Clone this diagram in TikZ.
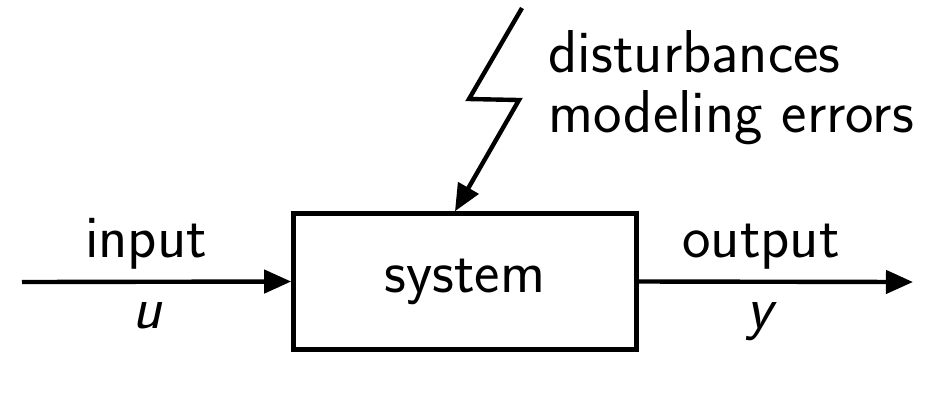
\documentclass[tikz,border=0pt]{standalone}
\usetikzlibrary{arrows.meta}
\begin{document}
\begin{tikzpicture}[x=0.01cm,y=-0.01cm,
  lbl/.style={font=\sffamily\fontsize{17.2}{20}\selectfont, inner sep=0pt},
  arr/.style={line width=1.25pt, -{Triangle[length=0.27cm,width=0.23cm]}},
  boxst/.style={draw, line width=1.25pt, minimum width=3.43cm, minimum height=1.36cm, inner sep=0pt}]
\useasboundingbox (0,0) rectangle (935,417);
\node[boxst] (sys) at (465,281.5) {};
\node[lbl, anchor=base] (systxt) at (465,292) {system};
\coordinate (in) at (22,282);
\coordinate (out) at (913,282);
\draw[arr] (in) -- (sys.west);
\draw[arr] (sys.east) -- (out);
\node[lbl, anchor=base] (inlbl) at (146,257) {input};
\node[lbl, anchor=base] (ulbl) at (147,328) {\itshape u};
\node[lbl, anchor=base] (outlbl) at (761,257) {output};
\node[lbl, anchor=base] (ylbl) at (760,328) {\itshape y};
\coordinate (t) at (522,8);
\coordinate (b1) at (469,99);
\coordinate (b2) at (519,100);
\coordinate (hx) at (455,0);
\draw[arr] (t) -- (b1) -- (b2) -- (hx |- sys.north);
\node[lbl, anchor=base west] (dist) at (548,72) {disturbances};
\node[lbl, anchor=base west] (moderr) at (548,132) {modeling errors};
\end{tikzpicture}
\end{document}
